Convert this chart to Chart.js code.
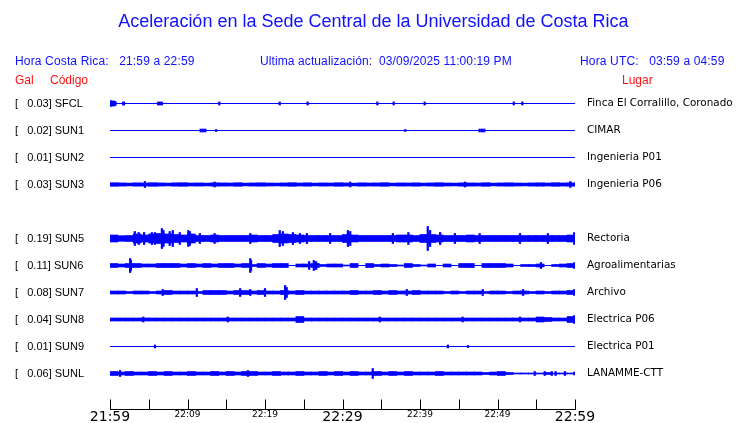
<!DOCTYPE html>
<html>
<head>
<meta charset="utf-8">
<script src="https://cdn.jsdelivr.net/npm/chart.js@4.4.1/dist/chart.umd.min.js"></script>
<style>
  body { margin: 0; background: #fff; }
  #wrap { position: relative; width: 740px; height: 423px; overflow: hidden; }
  #wrap canvas { position: absolute; left: 0; top: 0; }
  .t { position: absolute; white-space: pre; font-family: "Liberation Sans", Arial, sans-serif; }
  .blue { color: #1010ff; }
  .red { color: #ff1010; }
</style>
</head>
<body>
<div id="wrap">
  <canvas id="sismo" width="740" height="423"></canvas>
  <div class="t blue" style="left:0;width:747px;text-align:center;top:11px;font-size:18px;line-height:20px;">Aceleración en la Sede Central de la Universidad de Costa Rica</div>
  <div class="t blue" style="left:15px;top:54px;font-size:12px;line-height:14px;letter-spacing:0.15px;">Hora Costa Rica:   21:59 a 22:59</div>
  <div class="t blue" style="left:260px;top:54px;font-size:12px;line-height:14px;letter-spacing:0.1px;">Ultima actualización:  03/09/2025 11:00:19 PM</div>
  <div class="t blue" style="left:580px;top:54px;font-size:12px;line-height:14px;letter-spacing:0.15px;">Hora UTC:   03:59 a 04:59</div>
  <div class="t red" style="left:15px;top:73px;font-size:12px;line-height:14px;">Gal</div>
  <div class="t red" style="left:50px;top:73px;font-size:12px;line-height:14px;">Código</div>
  <div class="t red" style="left:622px;top:73px;font-size:12px;line-height:14px;">Lugar</div>
</div>
<script>
// station list, top to bottom (row 4 is left empty in the original plot)
const stations = ['SFCL', 'SUN1', 'SUN2', 'SUN3', 'SUN5', 'SUN6', 'SUN7', 'SUN8', 'SUN9', 'SUNL'];
const peakGal = [0.03, 0.02, 0.01, 0.03, 0.19, 0.11, 0.08, 0.04, 0.01, 0.06];
const places = ['Finca El Corralillo, Coronado', 'CIMAR', 'Ingenieria P01', 'Ingenieria P06',
  'Rectoria', 'Agroalimentarias', 'Archivo', 'Electrica P06', 'Electrica P01', 'LANAMME-CTT'];
const rows = [0, 1, 2, 3, 5, 6, 7, 8, 9, 10];

// x axis: minutes after 21:59
const tickMinutes = [0, 5, 10, 15, 20, 25, 30, 35, 40, 45, 50, 55, 60];
const timeLabels = ['21:59', '22:09', '22:19', '22:29', '22:39', '22:49', '22:59'];

// half-width of each trace's band, one value per minute (null = just a thin line)
const envSFCL = null;
const envSUN1 = null;
const envSUN2 = null;
const envSUN3 = [1.8, 1.6, 1.4, 1.7, 1.5, 1.8, 1.6, 1.4, 1.7, 1.8, 1.5, 1.6, 1.4, 1.7, 1.6, 1.5, 1.8, 1.4, 1.6, 1.7,
  1.5, 1.4, 1.6, 1.8, 1.5, 1.7, 1.4, 1.6, 1.5, 1.8, 1.6, 1.4, 1.7, 1.5, 1.6, 1.8, 1.4, 1.6, 1.5, 1.7,
  1.4, 1.6, 1.8, 1.5, 1.4, 1.7, 1.6, 1.5, 1.8, 1.4, 1.6, 1.7, 1.5, 1.4, 1.6, 1.7, 1.5, 1.8, 1.6, 1.7];
const envSUN5 = [3.5, 2.8, 3, 4.5, 3.5, 4.5, 5, 4.5, 4, 3.5, 4.5, 3, 3, 3.5, 3, 3, 3, 3, 3.5, 3,
  3, 4, 4.5, 4, 3.5, 3, 3, 3, 3, 3, 4, 3.5, 3, 3, 3, 3, 3, 3.5, 3.5, 3,
  4, 4, 3.5, 3, 3, 3, 3.5, 3, 3, 3, 3, 3, 3, 3, 3, 3, 3, 3, 3, 3.5];
const envSUN6 = [2, 1.5, 2, 2, 1.5, 1.5, 2, 2, 2, 1.5, 2, 1.5, 2, 1.5, 2, 2, 1.5, 2, 1, 2,
  1.5, 2, 2, 0, 1.5, 1.5, 2, 1, 1.5, 1.5, 0.5, 2, 0, 2, 1, 1.5, 1, 0.5, 2, 1,
  0.5, 1.5, 0, 1.5, 0, 2, 2, 0, 2, 2, 2, 1.5, 0, 1, 1, 1.5, 0, 1, 1.5, 2];
const envSUN7 = [1.5, 1.5, 1, 1.5, 1.5, 1, 1.5, 2, 1.5, 1.5, 1.5, 1, 2, 2, 2, 1.5, 2, 2, 1.5, 2,
  1.5, 1.5, 2, 1.5, 2, 1.5, 1.5, 1.5, 1.5, 1.5, 1.5, 2, 1.5, 1.5, 2, 1.5, 2, 1.5, 1.5, 2,
  1.5, 1.5, 1.5, 1, 1.5, 1, 1.5, 1.5, 1, 1.5, 1.5, 1, 1.5, 1.5, 1, 1.5, 1, 1.5, 1.5, 2];
const envSUN8 = [1.5, 1.5, 1.5, 1.5, 1.5, 1.5, 1.5, 1.5, 1.5, 1.5, 1.5, 1.5, 1.5, 1.5, 1.5, 1.5, 1.5, 1.5, 1.5, 1.5,
  1.5, 1.5, 1.5, 1.5, 3, 1.5, 1.5, 1.5, 1.5, 1.5, 1.5, 1.5, 1.5, 1.5, 1.5, 1.5, 1.5, 1.5, 1.5, 1.5,
  1.5, 1.5, 1.5, 1.5, 1.5, 1.5, 1.5, 1.5, 1.5, 1.5, 1.5, 1.5, 1.5, 1.5, 1.5, 2.5, 2, 1.5, 1.5, 3];
const envSUN9 = null;
const envSUNL = [2, 1.5, 2, 1.5, 1.5, 2, 1.5, 2, 1.5, 1.5, 2, 1.5, 1.5, 2, 1.5, 2, 1.5, 2, 2, 1.5,
  1.5, 2, 1.5, 1.5, 2, 1.5, 1.5, 2, 1.5, 2, 1.5, 2, 1.5, 1.5, 2, 1.5, 2, 1.5, 2, 1.5,
  1.5, 1.5, 2, 1.5, 1.5, 1.5, 1.5, 1.5, 1, 1.5, 2, 1, 0.5, 0.5, 0.5, 0.5, 1, 0.5, 0.5, 0.5];

// single spikes: [minute, half-height]
const spikesSFCL = [[0.1, 3], [0.3, 2.5], [0.5, 2.5], [0.7, 2], [1.7, 1.5], [1.8, 1.5], [6.2, 1.5], [6.45, 1.5],
  [6.7, 1.5], [14.1, 1.5], [21.9, 1.5], [25.5, 1.5], [34.5, 1.5], [36.6, 1.5], [40.6, 1.5], [52.1, 1.5], [53.2, 1.5]];
const spikesSUN1 = [[11.7, 1.5], [12, 1.5], [12.3, 1.5], [13.7, 1], [38.1, 1], [47.7, 1.5], [48, 1.5], [48.3, 1.5]];
const spikesSUN2 = [];
const spikesSUN3 = [[4.5, 3], [13.5, 2.5], [31, 2.5], [45.8, 2.5], [59.4, 3]];
const spikesSUN5 = [[3.2, 7], [3.7, 6], [4.4, 6], [5.4, 6], [5.8, 6], [6.7, 10], [6.9, 8], [7.7, 7], [8.1, 8],
  [9.0, 6], [10.1, 8], [10.3, 7], [11.6, 5], [13.5, 5], [18.1, 5], [21.9, 8], [22.3, 7], [23.6, 6], [24.5, 5],
  [25.4, 5], [28.4, 5], [30.7, 8], [31, 7], [36.5, 5], [38.5, 6], [41.0, 12], [41.3, 8], [42.6, 6], [44.5, 5],
  [47.7, 5], [52.9, 5], [56.5, 5], [59.9, 6]];
const spikesSUN6 = [[2.6, 7], [2.7, 5], [18.1, 7], [18.2, 5], [25.7, 4], [26.3, 5], [26.6, 4], [55.6, 3], [59.9, 3]];
const spikesSUN7 = [[6.8, 3], [11.2, 4], [16.8, 4], [18.1, 3], [20, 4], [22.6, 7], [22.8, 5], [38.3, 3],
  [48.1, 3], [53.3, 3], [59.9, 3]];
const spikesSUN8 = [[4.3, 2.5], [15.2, 2.5], [34.8, 2.5], [45.5, 2.5], [52.9, 2.5], [59.9, 4]];
const spikesSUN9 = [[5.8, 1.5], [43.6, 1.5], [46.2, 1]];
const spikesSUNL = [[1.3, 3], [17.8, 3], [33.9, 5], [54.8, 2], [56.1, 2], [57, 2], [57.5, 2], [58.7, 2], [59.9, 1.5]];

const envs = [envSFCL, envSUN1, envSUN2, envSUN3, envSUN5, envSUN6, envSUN7, envSUN8, envSUN9, envSUNL];
const spikes = [spikesSFCL, spikesSUN1, spikesSUN2, spikesSUN3, spikesSUN5, spikesSUN6, spikesSUN7,
  spikesSUN8, spikesSUN9, spikesSUNL];

const ROW_UNITS = 27;   // band units per row spacing
const BLUE = '#0000ff';

const datasets = [];
stations.forEach((code, i) => {
  const r = rows[i];
  datasets.push({
    type: 'line', data: [{ x: 0, y: r }, { x: 60, y: r }],
    borderColor: BLUE, borderWidth: 1, pointRadius: 0
  });
  if (envs[i]) {
    datasets.push({
      type: 'bar', grouped: false, barThickness: 8, borderWidth: 0, backgroundColor: BLUE,
      data: envs[i].map((a, m) => ({ x: m + 0.5, y: [r - a / ROW_UNITS, r + a / ROW_UNITS] })).filter((d, m) => envs[i][m] > 0)
    });
  }
  if (spikes[i].length) {
    datasets.push({
      type: 'bar', grouped: false, barThickness: 1.6, borderWidth: 0, backgroundColor: BLUE,
      data: spikes[i].map(s => ({ x: s[0], y: [r - s[1] / ROW_UNITS, r + s[1] / ROW_UNITS] }))
    });
  }
});

// bottom time axis: line with ticks pointing up
const timeAxis = {
  id: 'timeAxis',
  afterDraw(chart) {
    const xs = chart.scales.x;
    const ctx = chart.ctx;
    const y = Math.round(xs.top) + 0.5;
    ctx.save();
    ctx.strokeStyle = '#000';
    ctx.lineWidth = 1;
    ctx.beginPath();
    ctx.moveTo(xs.left, y);
    ctx.lineTo(xs.right + 1, y);
    xs.ticks.forEach(t => {
      const px = Math.round(xs.getPixelForValue(t.value)) + 0.5;
      ctx.moveTo(px, y);
      ctx.lineTo(px, y - 10);
    });
    ctx.stroke();
    ctx.restore();
  }
};

const rowTicks = scale => { scale.ticks = rows.map(v => ({ value: v })); };
const fitY = w => scale => { scale.width = w; scale.paddingTop = 0; scale.paddingBottom = 0; };
const Y_MIN = -0.5741, Y_MAX = 11.315;

new Chart(document.getElementById('sismo'), {
  type: 'bar',
  data: { datasets },
  options: {
    responsive: false,
    animation: false,
    devicePixelRatio: 1,
    layout: { padding: { left: 15, right: 0, top: 88, bottom: 0 } },
    plugins: { legend: { display: false }, tooltip: { enabled: false } },
    scales: {
      x: {
        type: 'linear', min: 0, max: 60, offset: false,
        afterBuildTicks: scale => { scale.ticks = tickMinutes.map(v => ({ value: v })); },
        afterFit: scale => { scale.height = 14; scale.paddingLeft = 0; scale.paddingRight = 0; },
        grid: { display: false },
        border: { display: false },
        ticks: {
          autoSkip: false, maxRotation: 0, padding: -8, color: '#000',
          font: ctx => ctx.tick && ctx.tick.value % 30 === 0
            ? { family: 'DejaVu Sans', size: 14 }
            : { family: 'DejaVu Sans', size: 9 },
          callback: v => (v % 10 === 0 ? timeLabels[v / 10] : '')
        }
      },
      y: {
        type: 'linear', position: 'left', reverse: true, min: Y_MIN, max: Y_MAX,
        afterBuildTicks: rowTicks,
        afterFit: fitY(95),
        grid: { display: false },
        border: { display: false },
        ticks: {
          autoSkip: false, crossAlign: 'far', color: '#000',
          font: { family: 'Liberation Sans', size: 11 },
          callback: v => {
            const i = rows.indexOf(v);
            return i < 0 ? '' : '[   ' + peakGal[i].toFixed(2) + '] ' + stations[i];
          }
        }
      },
      y2: {
        type: 'linear', position: 'right', reverse: true, min: Y_MIN, max: Y_MAX,
        afterBuildTicks: rowTicks,
        afterFit: fitY(165),
        grid: { display: false },
        border: { display: false },
        ticks: {
          autoSkip: false, padding: 4, color: '#000',
          font: { family: 'DejaVu Sans', size: 10.4 },
          callback: v => {
            const i = rows.indexOf(v);
            return i < 0 ? '' : places[i];
          }
        }
      }
    }
  },
  plugins: [timeAxis]
});
</script>
</body>
</html>
